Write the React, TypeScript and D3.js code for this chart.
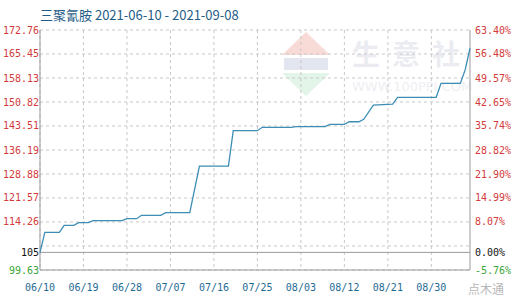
import React from 'react';
import * as d3 from 'd3';

const titleText = '三聚氰胺 2021-06-10 - 2021-09-08';
const pointDates = [
  '2021-06-10', '2021-06-11', '2021-06-14', '2021-06-15', '2021-06-17', '2021-06-18', '2021-06-20', '2021-06-21',
  '2021-06-27', '2021-06-28', '2021-06-30', '2021-07-01', '2021-07-05', '2021-07-06', '2021-07-11', '2021-07-13',
  '2021-07-19', '2021-07-20', '2021-07-25', '2021-07-26', '2021-08-01', '2021-08-02', '2021-08-08', '2021-08-09',
  '2021-08-12', '2021-08-13', '2021-08-15', '2021-08-16', '2021-08-18', '2021-08-22', '2021-08-23', '2021-08-31',
  '2021-09-01', '2021-09-05', '2021-09-06', '2021-09-07',
];
const pointValues = [
  105, 111.1, 111.1, 113.25, 113.25, 114.04, 114.04, 114.65,
  114.65, 115.26, 115.26, 116.3, 116.3, 117.1, 117.1, 131.3,
  131.3, 142.07, 142.07, 143.1, 143.1, 143.3, 143.3, 144.0,
  144.0, 144.8, 144.8, 145.55, 149.9, 150.2, 152.25, 152.25,
  156.5, 156.5, 160.6, 167.2,
];
const xTickDates = ['2021-06-10', '2021-06-19', '2021-06-28', '2021-07-07', '2021-07-16', '2021-07-25', '2021-08-03', '2021-08-12', '2021-08-21', '2021-08-30'];
const xTickLabels = ['06/10', '06/19', '06/28', '07/07', '07/16', '07/25', '08/03', '08/12', '08/21', '08/30'];
const gridValues = [172.76, 165.45, 158.13, 150.82, 143.51, 136.19, 128.88, 121.57, 114.26, 106.95, 99.63];
const leftTickValues = [172.76, 165.45, 158.13, 150.82, 143.51, 136.19, 128.88, 121.57, 114.26, 105, 99.63];
const leftTickLabels = ['172.76', '165.45', '158.13', '150.82', '143.51', '136.19', '128.88', '121.57', '114.26', '105', '99.63'];
const rightTickLabels = ['63.40%', '56.48%', '49.57%', '42.65%', '35.74%', '28.82%', '21.90%', '14.99%', '8.07%', '0.00%', '-5.76%'];
const baseValue = 105;
const xDomain = ['2021-06-10', '2021-09-07'];
const yDomain = [99.63, 172.76];

const parse = d3.timeParse('%Y-%m-%d');

export default function App() {
  const left = 40, right = 470, top = 30, bottom = 270;
  const x = d3.scaleTime().domain(xDomain.map((d) => parse(d) as Date)).range([left, right]);
  const y = d3.scaleLinear().domain(yDomain).range([bottom, top]);
  const data = pointDates.map((d, i) => ({ date: parse(d) as Date, value: pointValues[i] }));
  const line = d3.line<{ date: Date; value: number }>().x((d) => x(d.date)).y((d) => y(d.value));
  const mono = '"DejaVu Sans Mono", "Liberation Mono", monospace';
  const labelColor = (v: number) => (v === baseValue ? '#111' : v < baseValue ? '#3aa53a' : '#d23b3b');

  return (
    <svg width={520} height={300} style={{ position: 'absolute', left: 0, top: 0, background: '#fff' }}>
      {/* watermark */}
      <g opacity={0.5}>
        <path d="M282,55 L306,32 L330,55 Z" fill="#f2b8b0" />
        <rect x={284} y={58} width={44} height={12} fill="#c8cce0" />
        <path d="M282,73 L330,73 L306,96 Z" fill="#c9ead2" />
        <text x={352} y={65} fontSize={28} fill="#d8dbe4" fontFamily='"Noto Sans CJK SC", sans-serif' letterSpacing={12} fontWeight={700}>生意社</text>
        <text x={352} y={91} fontSize={13} fill="#dde0e8" fontFamily='"DejaVu Sans", sans-serif'>WWW.100PPI.COM</text>
      </g>
      <text x={left} y={20} fontSize={13} fill="#1f5d88" fontFamily='"Noto Sans CJK SC", "DejaVu Sans", sans-serif'>{titleText}</text>
      {/* horizontal grid */}
      {gridValues.map((v, i) => (
        <line key={'g' + i} x1={left} x2={right} y1={y(v)} y2={y(v)} stroke="#c8c8c8" strokeDasharray="3,3" />
      ))}
      {/* vertical grid */}
      {xTickDates.map((d, i) => (
        <line key={'v' + i} x1={x(parse(d) as Date)} x2={x(parse(d) as Date)} y1={top} y2={bottom} stroke="#c8c8c8" strokeDasharray="3,3" />
      ))}
      {/* axes and border */}
      <line x1={left} x2={left} y1={top} y2={bottom} stroke="#999" />
      <line x1={right} x2={right} y1={top} y2={bottom} stroke="#999" />
      <line x1={left} x2={right} y1={bottom} y2={bottom} stroke="#999" />
      <line x1={left} x2={right} y1={y(baseValue)} y2={y(baseValue)} stroke="#999" />
      {/* data line */}
      <path d={line(data) ?? ''} fill="none" stroke="#3d8db5" strokeWidth={1.3} />
      {/* left labels */}
      {leftTickValues.map((v, i) => (
        <text key={'l' + i} x={left - 1} y={y(v)} dy="0.35em" textAnchor="end" fontSize={10} fontFamily={mono} fill={labelColor(v)}>{leftTickLabels[i]}</text>
      ))}
      {leftTickValues.map((v, i) => (
        <text key={'r' + i} x={right + 5} y={y(v)} dy="0.35em" textAnchor="start" fontSize={10} fontFamily={mono} fill={labelColor(v)}>{rightTickLabels[i]}</text>
      ))}
      {xTickDates.map((d, i) => (
        <text key={'x' + i} x={x(parse(d) as Date)} y={291} textAnchor="middle" fontSize={10} fontFamily={mono} fill="#1f6b94">{xTickLabels[i]}</text>
      ))}
      <text x={468} y={294} fontSize={12} fill="#888" opacity={0.6} fontFamily='"Noto Sans CJK SC", sans-serif'>点木通</text>
    </svg>
  );
}
